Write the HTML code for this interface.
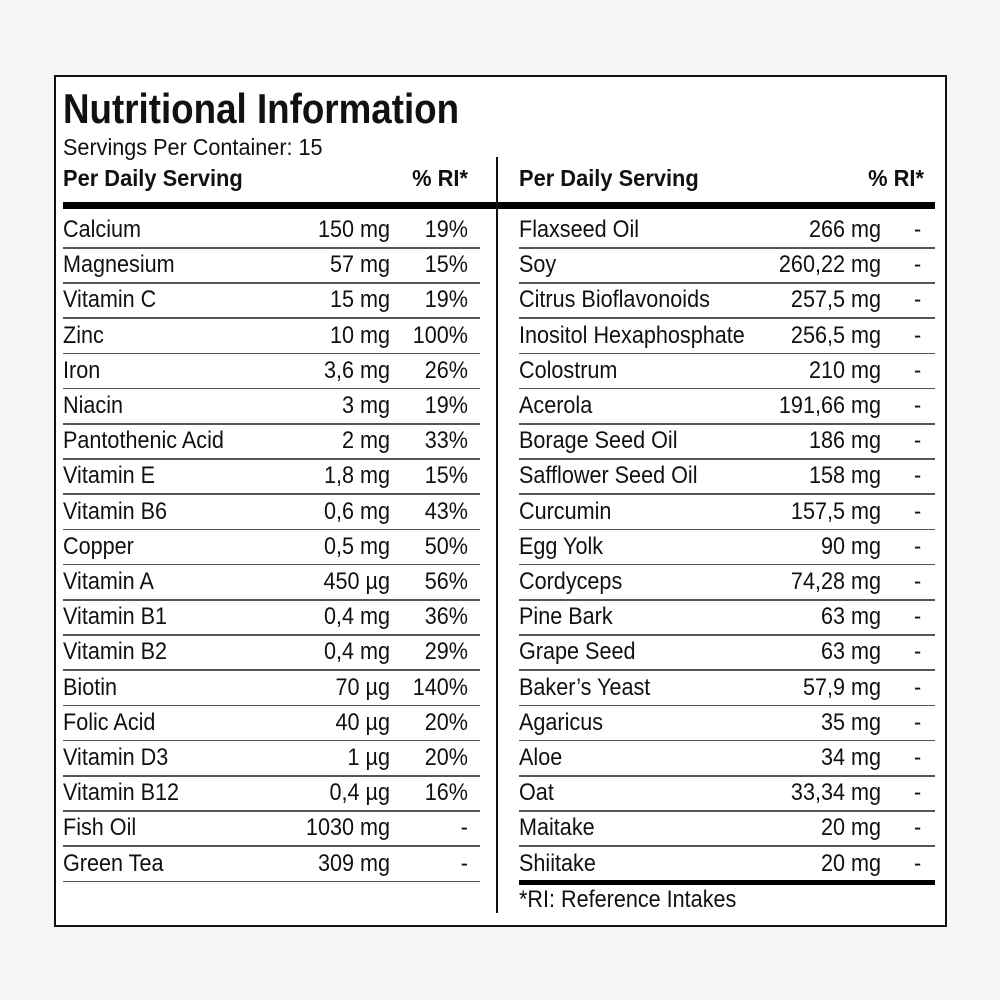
<!DOCTYPE html>
<html><head><meta charset="utf-8"><style>
body{margin:0;width:1000px;height:1000px;background:#f6f6f6;position:relative;overflow:hidden;font-family:"Liberation Sans",sans-serif;color:#111}
.box{position:absolute;left:54px;top:75px;width:889px;height:848px;border:2px solid #111;background:#fff}
.t{position:absolute;white-space:nowrap;line-height:1;transform:scaleX(0.9);transform-origin:left center}
.r{text-align:right;transform-origin:right center}
.ln{position:absolute;height:1.5px;background:#555}
</style></head><body>
<div class="box"></div>
<div class="t" style="left:63px;top:88px;font-size:42px;font-weight:bold;transform:scaleX(0.875)">Nutritional Information</div>
<div class="t" style="left:63px;top:136px;font-size:23px;transform:scaleX(0.94)">Servings Per Container: 15</div>
<div class="t" style="left:63px;top:167px;font-size:23px;font-weight:bold;transform:scaleX(0.95)">Per Daily Serving</div>
<div class="t r" style="left:368px;width:100px;top:167px;font-size:23px;font-weight:bold;transform:scaleX(0.95)">% RI*</div>
<div class="t" style="left:519px;top:167px;font-size:23px;font-weight:bold;transform:scaleX(0.95)">Per Daily Serving</div>
<div class="t r" style="left:824px;width:100px;top:167px;font-size:23px;font-weight:bold;transform:scaleX(0.95)">% RI*</div>
<div style="position:absolute;left:63px;top:202px;width:872px;height:7px;background:#000"></div>
<div style="position:absolute;left:496px;top:157px;width:2px;height:756px;background:#111"></div>
<div style="position:absolute;left:519px;top:880px;width:416px;height:5px;background:#000"></div>
<div class="t" style="left:519px;top:888px;font-size:24px">*RI: Reference Intakes</div>
<div id="rows"></div>
<script>
var L=[["Calcium","150 mg","19%"],["Magnesium","57 mg","15%"],["Vitamin C","15 mg","19%"],["Zinc","10 mg","100%"],["Iron","3,6 mg","26%"],["Niacin","3 mg","19%"],["Pantothenic Acid","2 mg","33%"],["Vitamin E","1,8 mg","15%"],["Vitamin B6","0,6 mg","43%"],["Copper","0,5 mg","50%"],["Vitamin A","450 µg","56%"],["Vitamin B1","0,4 mg","36%"],["Vitamin B2","0,4 mg","29%"],["Biotin","70 µg","140%"],["Folic Acid","40 µg","20%"],["Vitamin D3","1 µg","20%"],["Vitamin B12","0,4 µg","16%"],["Fish Oil","1030 mg","-"],["Green Tea","309 mg","-"]];
var R=[["Flaxseed Oil","266 mg"],["Soy","260,22 mg"],["Citrus Bioflavonoids","257,5 mg"],["Inositol Hexaphosphate","256,5 mg"],["Colostrum","210 mg"],["Acerola","191,66 mg"],["Borage Seed Oil","186 mg"],["Safflower Seed Oil","158 mg"],["Curcumin","157,5 mg"],["Egg Yolk","90 mg"],["Cordyceps","74,28 mg"],["Pine Bark","63 mg"],["Grape Seed","63 mg"],["Baker’s Yeast","57,9 mg"],["Agaricus","35 mg"],["Aloe","34 mg"],["Oat","33,34 mg"],["Maitake","20 mg"],["Shiitake","20 mg"]];
var h="";
for(var i=0;i<19;i++){var y=218+35.2*i;var ly=247+35.2*i;
var a=L[i];
h+='<div class="t" style="left:63px;top:'+y+'px;font-size:24px">'+a[0]+'</div>';
h+='<div class="t r" style="left:250px;width:140px;top:'+y+'px;font-size:24px">'+a[1]+'</div>';
h+='<div class="t r" style="left:390px;width:78px;top:'+y+'px;font-size:24px">'+a[2]+'</div>';
h+='<div class="ln" style="left:63px;width:417px;top:'+ly+'px"></div>';
var b=R[i];
h+='<div class="t" style="left:519px;top:'+y+'px;font-size:24px">'+b[0]+'</div>';
h+='<div class="t r" style="left:720px;width:161px;top:'+y+'px;font-size:24px">'+b[1]+'</div>';
h+='<div class="t" style="left:914px;top:'+y+'px;font-size:24px">-</div>';
if(i<18)h+='<div class="ln" style="left:519px;width:416px;top:'+ly+'px"></div>';
}
document.getElementById("rows").innerHTML=h;
</script>
</body></html>
